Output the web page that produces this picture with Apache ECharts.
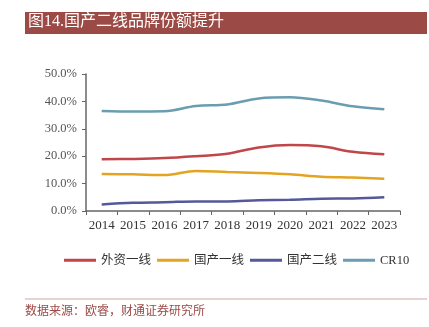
<!DOCTYPE html>
<html><head><meta charset="utf-8">
<script src="https://cdn.jsdelivr.net/npm/echarts@6/dist/echarts.min.js"></script>
<style>html,body{margin:0;padding:0;background:#fff}#c{width:429px;height:327px}</style>
</head><body><div id="c"></div>
<script>
const categories = ['2014','2015','2016','2017','2018','2019','2020','2021','2022','2023'];
const seriesNames = ['外资一线','国产一线','国产二线','CR10'];
const foreignTier1 = [18.9,19.0,19.3,20.0,20.9,23.2,24.1,23.6,21.6,20.7];
const domesticTier1 = [13.5,13.4,13.1,14.6,14.2,13.9,13.4,12.5,12.2,11.8];
const domesticTier2 = [2.4,3.0,3.2,3.5,3.5,3.9,4.1,4.5,4.6,5.0];
const cr10 = [36.5,36.3,36.4,38.3,38.9,41.1,41.5,40.3,38.2,37.1];
const yTicks = [0,10,20,30,40,50];

const colors = ['#c0464a','#e2a421','#55589a','#6a9db0'];
const serif = '"Liberation Serif","DejaVu Serif","Noto Sans CJK SC",serif';
const cjk = '"Liberation Serif","Noto Sans CJK SC",serif';
const chart = echarts.init(document.getElementById('c'));
const dataArr = [foreignTier1, domesticTier1, domesticTier2, cr10];
chart.setOption({
  animation:false,
  graphic:[
    {type:'rect',shape:{x:25,y:12,width:402,height:22},style:{fill:'#9b4a45'}},
    {type:'text',left:28,top:14,style:{text:'图14.国产二线品牌份额提升',fill:'#fff',font:'16px '+cjk}},
    {type:'line',shape:{x1:25,y1:299,x2:427,y2:299},style:{stroke:'#cfa5a3',lineWidth:1}},
    {type:'text',left:25,top:306,style:{text:'数据来源：欧睿，财通证券研究所',fill:'#9b4a45',font:'12px '+cjk}}
  ],
  legend:{
    left:59, top:249, itemWidth:32, itemHeight:3, itemGap:6, icon:'rect',
    textStyle:{fontFamily:cjk,fontSize:12.5,color:'#333'},
    data:seriesNames
  },
  grid:{left:86,right:29,top:74,bottom:116},
  xAxis:{
    type:'category', data:categories, boundaryGap:true,
    axisLine:{lineStyle:{color:'#666',width:1.5}},
    axisTick:{show:true,length:4,interval:0,lineStyle:{color:'#666'}},
    axisLabel:{fontFamily:serif,fontSize:13,color:'#333',margin:8,interval:0,hideOverlap:false}
  },
  yAxis:{
    type:'value', min:yTicks[0], max:yTicks[yTicks.length-1], interval:10,
    axisLine:{show:true,lineStyle:{color:'#666',width:1.5}},
    axisTick:{show:true,length:4,lineStyle:{color:'#666'}},
    splitLine:{show:false},
    axisLabel:{fontFamily:serif,fontSize:12.5,color:'#555',margin:9,
      formatter:v=>v.toFixed(1)+'%'}
  },
  series:seriesNames.map((n,i)=>({
    name:n,type:'line',data:dataArr[i],smooth:0.35,showSymbol:false,symbol:'none',
    lineStyle:{color:colors[i],width:2.5},itemStyle:{color:colors[i]}
  }))
});
</script></body></html>
